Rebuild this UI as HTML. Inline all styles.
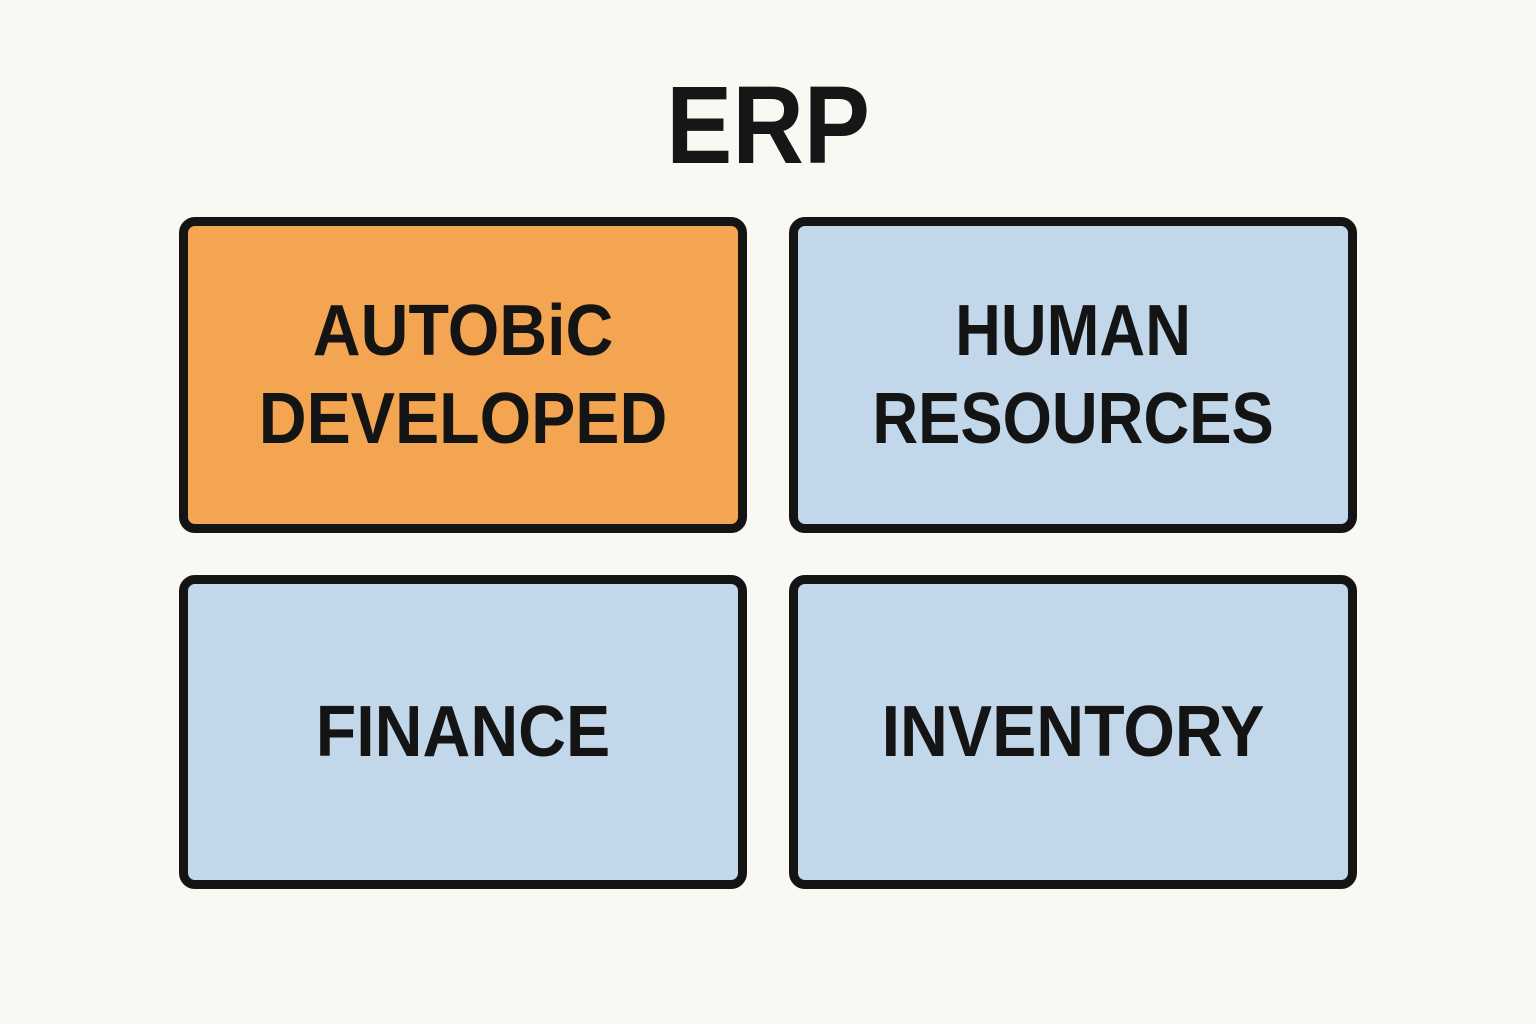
<!DOCTYPE html>
<html><head><style>
body{margin:0;width:1536px;height:1024px;background:#FAF8F3;position:relative;overflow:hidden;font-family:"Liberation Sans",sans-serif;}
.t{position:absolute;left:0;width:1536px;top:66px;text-align:center;font-size:110px;font-weight:bold;color:#161616;line-height:120px;}
.t span{display:inline-block;transform:scaleX(0.9)}
.b{position:absolute;box-sizing:border-box;border:9px solid #141414;border-radius:16px;display:flex;align-items:center;justify-content:center;text-align:center;font-weight:bold;font-size:72px;line-height:88px;color:#141414;letter-spacing:0px}
.b span{display:inline-block;transform:scaleX(0.92)}
.o{background:#F4A552}.u{background:#C2D8EA}
</style></head><body>
<div class="t"><span>ERP</span></div>
<div class="b o" style="left:179px;top:217px;width:568px;height:316px"><span>AUTOBiC<br>DEVELOPED</span></div>
<div class="b u" style="left:789px;top:217px;width:568px;height:316px"><span style="transform:scaleX(0.88)">HUMAN<br>RESOURCES</span></div>
<div class="b u" style="left:179px;top:575px;width:568px;height:314px"><span>FINANCE</span></div>
<div class="b u" style="left:789px;top:575px;width:568px;height:314px"><span>INVENTORY</span></div>
</body></html>
